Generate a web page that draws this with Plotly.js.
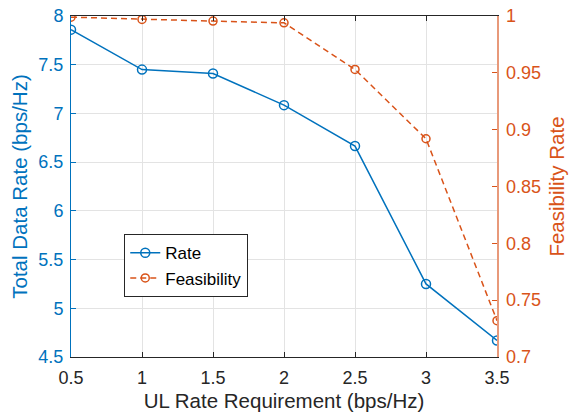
<!DOCTYPE html>
<html>
<head>
<meta charset="utf-8">
<script src="https://cdn.plot.ly/plotly-3.0.1.min.js"></script>
<style>html,body{margin:0;padding:0;background:#fff;}#chart{width:574px;height:417px;}</style>
</head>
<body>
<div id="chart"></div>
<script>
const ulRequirement = [0.5, 1, 1.5, 2, 2.5, 3, 3.5];
const rateValues = [7.86, 7.45, 7.41, 7.085, 6.665, 5.25, 4.67];
const feasibilityValues = [0.999, 0.997, 0.9955, 0.994, 0.953, 0.892, 0.732];
const xTicks = [0.5, 1, 1.5, 2, 2.5, 3, 3.5];
const leftTicks = [4.5, 5, 5.5, 6, 6.5, 7, 7.5, 8];
const rightTicks = [0.7, 0.75, 0.8, 0.85, 0.9, 0.95, 1];

const blue = '#0072BD', orange = '#D95319', dark = '#262626';
const font = 'Liberation Sans, Arial, Helvetica, sans-serif';

const traces = [
  {x: ulRequirement, y: rateValues, name: 'Rate', type: 'scatter', mode: 'lines+markers',
   line: {color: blue, width: 1.5}, marker: {symbol: 'circle-open', size: 9, color: blue, line: {width: 1.5, color: blue}},
   yaxis: 'y'},
  {x: ulRequirement, y: feasibilityValues, name: 'Feasibility', type: 'scatter', mode: 'lines+markers',
   line: {color: orange, width: 1.5, dash: '6px,4px'}, marker: {symbol: 'circle-open', size: 8, color: orange, line: {width: 1.5, color: orange}},
   yaxis: 'y2'}
];

const layout = {
  width: 574, height: 417,
  margin: {l: 71, r: 77, t: 16, b: 60, pad: 0},
  paper_bgcolor: '#fff', plot_bgcolor: '#fff',
  font: {family: font, size: 18, color: dark},
  showlegend: true,
  legend: {x: 0.125, y: 0.36, xanchor: 'left', yanchor: 'top', bgcolor: '#fff', bordercolor: dark, borderwidth: 1,
           font: {size: 17, color: '#000'}, tracegroupgap: 0, itemwidth: 30},
  xaxis: {range: [0.5, 3.5], tickvals: xTicks, ticktext: xTicks.map(String), showgrid: true, gridcolor: '#e3e3e3', gridwidth: 1,
          zeroline: false, showline: true, linecolor: dark, linewidth: 1, mirror: 'ticks', ticks: 'inside', ticklen: 5, tickcolor: dark,
          ticklabelstandoff: 4,
          tickfont: {size: 18, color: dark}, title: {text: 'UL Rate Requirement (bps/Hz)', font: {size: 20.5, color: dark}, standoff: 7}},
  yaxis: {range: [4.5, 8], tickvals: leftTicks, ticktext: leftTicks.map(String), showgrid: true, gridcolor: '#e3e3e3', gridwidth: 1,
          zeroline: false, showline: true, linecolor: blue, linewidth: 1, ticks: 'inside', ticklen: 5, tickcolor: blue,
          ticklabelstandoff: 3,
          tickfont: {size: 18, color: blue}, title: {text: 'Total Data Rate (bps/Hz)', font: {size: 20.5, color: blue}, standoff: 5}},
  yaxis2: {range: [0.7, 1], tickvals: rightTicks, ticktext: rightTicks.map(String), overlaying: 'y', side: 'right', showgrid: false,
          zeroline: false, showline: true, linecolor: '#E8997A', linewidth: 1.5, ticks: 'inside', ticklen: 5, tickcolor: orange,
          ticklabelstandoff: 4,
          tickfont: {size: 18, color: orange}, title: {text: 'Feasibility Rate', font: {size: 20.5, color: orange}, standoff: 9}}
};

Plotly.newPlot('chart', traces, layout, {displayModeBar: false, staticPlot: true});
</script>
</body>
</html>
